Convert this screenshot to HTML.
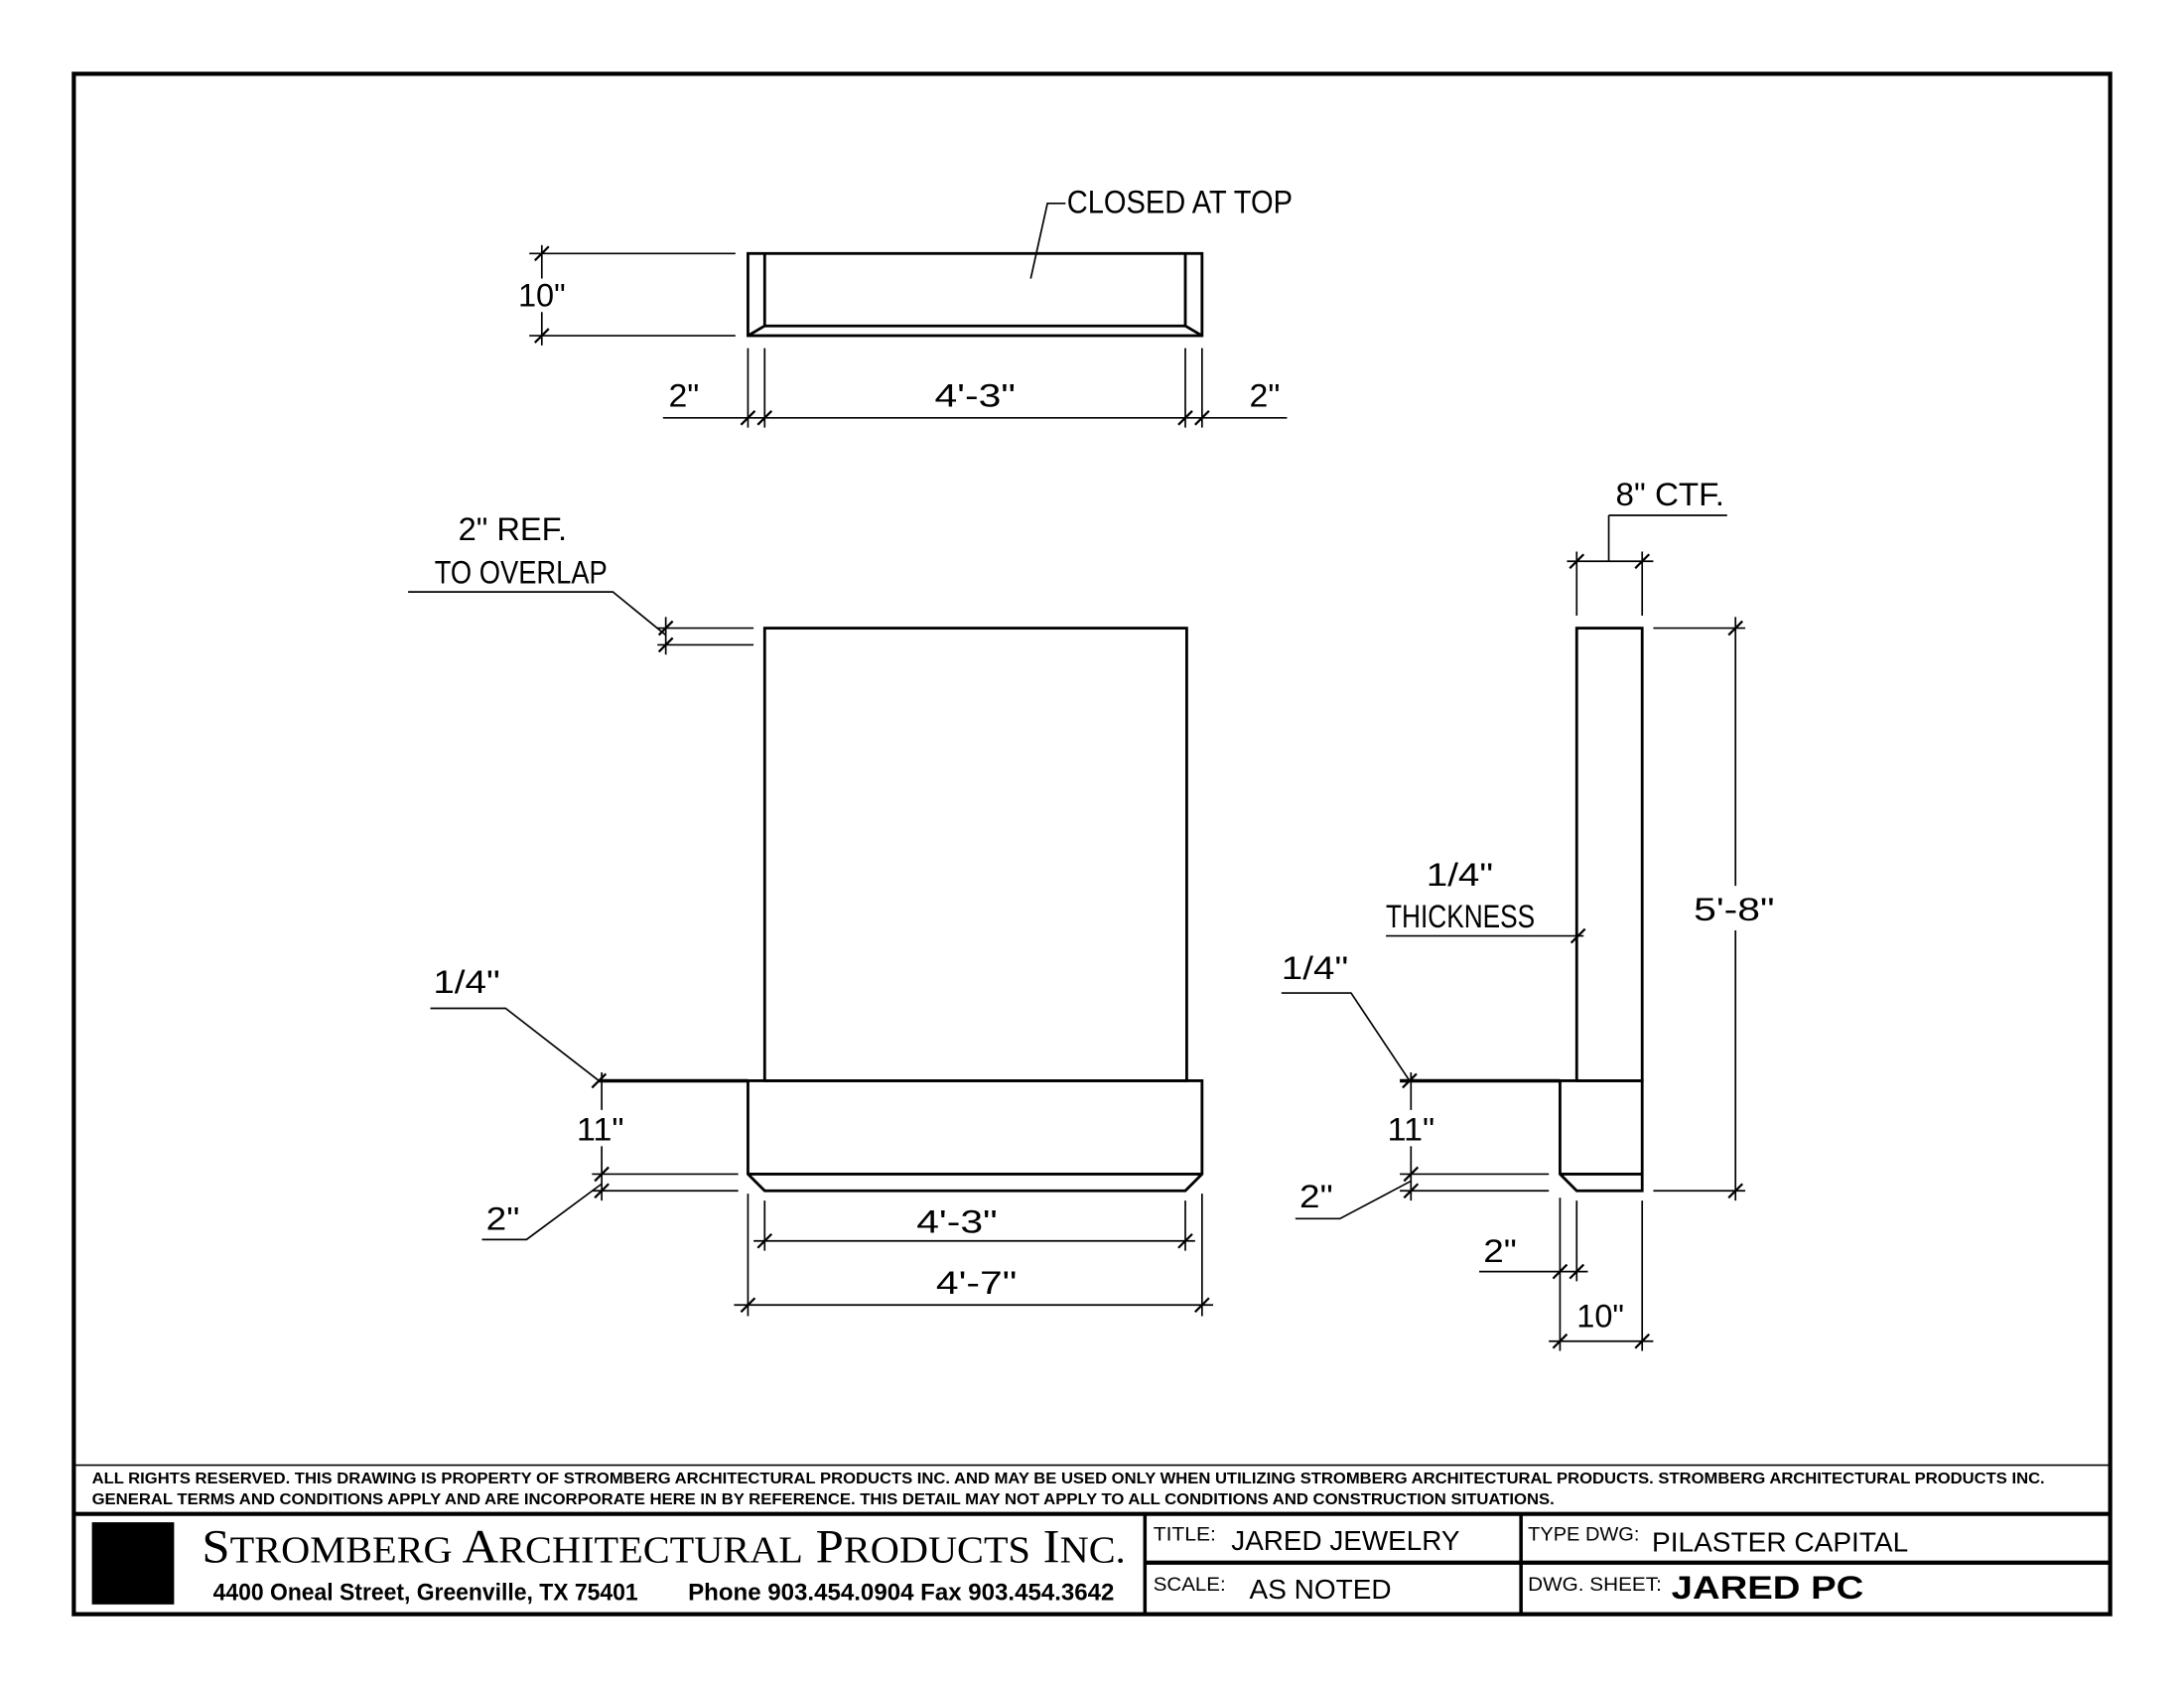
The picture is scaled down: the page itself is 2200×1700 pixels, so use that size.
<!DOCTYPE html>
<html><head><meta charset="utf-8"><style>
html,body{margin:0;padding:0;background:#fff}
svg{display:block}
.c{font-family:"Liberation Sans Narrow","Liberation Sans",sans-serif;font-size:23px;fill:#000}
.n{font-family:"Liberation Sans Narrow","Liberation Sans",sans-serif;font-weight:bold;font-size:11px}
.s{font-family:"Liberation Sans Narrow","Liberation Sans",sans-serif}
</style></head><body>
<svg width="2200" height="1700" viewBox="0 0 1568 1212" preserveAspectRatio="none" xmlns="http://www.w3.org/2000/svg">
<defs>
<path id="t" d="M-5 5 L5 -5" stroke="#000" stroke-width="1.6"/>
</defs>
<rect x="0" y="0" width="1568" height="1212" fill="#fff"/>
<g fill="none" stroke="#000">
<!-- frame -->
<rect x="53" y="53" width="1462" height="1106" stroke-width="3"/>
<line x1="53" y1="1052" x2="1515" y2="1052" stroke-width="1.2"/>
<line x1="53" y1="1087" x2="1515" y2="1087" stroke-width="3"/>
<line x1="822" y1="1087" x2="822" y2="1159" stroke-width="2.5"/>
<line x1="1092" y1="1087" x2="1092" y2="1159" stroke-width="2.5"/>
<line x1="822" y1="1122" x2="1515" y2="1122" stroke-width="3"/>

<!-- TOP VIEW -->
<g stroke-width="2">
<rect x="537" y="182" width="326" height="59"/>
<path d="M549 182 V234 H851 V182 M537 241 L549 234 M863 241 L851 234"/>
</g>
<g stroke-width="1.2">
<path d="M740 200 L752 146 H765"/>
<path d="M380 182 H528 M380 241 H528 M389 176 V200 M389 224 V248"/>
<path d="M476 300 H924 M537 250 V307 M549 250 V307 M851 250 V307 M863 250 V307"/>
</g>

<!-- FRONT ELEVATION -->
<g stroke-width="2">
<rect x="549" y="451" width="303" height="325"/>
<path d="M537 776 H863 V843 L851 855 H549 L537 843 Z M537 843 H863"/>
<line x1="430" y1="776" x2="537" y2="776" stroke-width="2.5"/>
</g>
<g stroke-width="1.2">
<path d="M293 425 H440 L478 456"/>
<path d="M472 451 H541 M472 463 H541 M478 443 V470"/>
<path d="M309 724 H363 L430 776"/>
<path d="M432 770 V797 M432 823 V862 M425 843 H530 M425 855 H530"/>
<path d="M346 890 H378 L432 850"/>
<path d="M541 891 H858 M549 862 V898 M851 862 V898"/>
<path d="M527 937 H871 M537 857 V945 M863 857 V945"/>
</g>

<!-- SIDE ELEVATION -->
<g stroke-width="2">
<rect x="1132" y="451" width="47" height="325"/>
<path d="M1120 776 H1179 V855 H1132 L1120 843 Z M1120 843 H1179"/>
<line x1="1005" y1="776" x2="1120" y2="776" stroke-width="2.5"/>
</g>
<g stroke-width="1.2">
<path d="M1155 370 H1240 M1155 370 V403 M1125 403 H1187 M1132 396 V442 M1179 396 V442"/>
<path d="M1187 451 H1253 M1187 855 H1253 M1246 443 V636 M1246 668 V862"/>
<path d="M995 672 H1137"/>
<path d="M920 713 H970 L1012 776"/>
<path d="M1013 770 V797 M1013 823 V862 M1005 843 H1112 M1005 855 H1112"/>
<path d="M930 875 H962 L1013 848"/>
<path d="M1062 913 H1140 M1120 860 V970 M1132 862 V920 M1179 862 V970 M1112 963 H1187"/>
</g>
</g>
<!-- ticks -->
<g>
<use href="#t" x="389" y="182"/><use href="#t" x="389" y="241"/>
<use href="#t" x="537" y="300"/><use href="#t" x="549" y="300"/><use href="#t" x="851" y="300"/><use href="#t" x="863" y="300"/>
<use href="#t" x="478" y="451"/><use href="#t" x="478" y="463"/>
<use href="#t" x="430" y="776"/><use href="#t" x="432" y="843"/><use href="#t" x="432" y="855"/>
<use href="#t" x="549" y="891"/><use href="#t" x="851" y="891"/>
<use href="#t" x="537" y="937"/><use href="#t" x="863" y="937"/>
<use href="#t" x="1132" y="403"/><use href="#t" x="1179" y="403"/>
<use href="#t" x="1246" y="451"/><use href="#t" x="1246" y="855"/>
<use href="#t" x="1133" y="672"/><use href="#t" x="1012" y="776"/>
<use href="#t" x="1013" y="843"/><use href="#t" x="1013" y="855"/>
<use href="#t" x="1120" y="913"/><use href="#t" x="1132" y="913"/>
<use href="#t" x="1120" y="963"/><use href="#t" x="1179" y="963"/>
</g>
<!-- CAD labels -->
<g class="c">
<text x="766" y="153" textLength="162" lengthAdjust="spacingAndGlyphs">CLOSED AT TOP</text>
<text x="372" y="220" textLength="34" lengthAdjust="spacingAndGlyphs">10"</text>
<text x="480" y="292" textLength="22" lengthAdjust="spacingAndGlyphs">2"</text>
<text x="671" y="292" textLength="58" lengthAdjust="spacingAndGlyphs">4'-3"</text>
<text x="897" y="292" textLength="22" lengthAdjust="spacingAndGlyphs">2"</text>
<text x="329" y="388" textLength="78" lengthAdjust="spacingAndGlyphs">2" REF.</text>
<text x="312" y="419" textLength="124" lengthAdjust="spacingAndGlyphs">TO OVERLAP</text>
<text x="311" y="713" textLength="48" lengthAdjust="spacingAndGlyphs">1/4"</text>
<text x="414" y="819" textLength="34" lengthAdjust="spacingAndGlyphs">11"</text>
<text x="349" y="883" textLength="24" lengthAdjust="spacingAndGlyphs">2"</text>
<text x="658" y="885" textLength="58" lengthAdjust="spacingAndGlyphs">4'-3"</text>
<text x="672" y="929" textLength="58" lengthAdjust="spacingAndGlyphs">4'-7"</text>
<text x="1160" y="363" textLength="78" lengthAdjust="spacingAndGlyphs">8" CTF.</text>
<text x="1216" y="661" textLength="58" lengthAdjust="spacingAndGlyphs">5'-8"</text>
<text x="1024" y="636" textLength="48" lengthAdjust="spacingAndGlyphs">1/4"</text>
<text x="995" y="666" textLength="107" lengthAdjust="spacingAndGlyphs">THICKNESS</text>
<text x="920" y="703" textLength="48" lengthAdjust="spacingAndGlyphs">1/4"</text>
<text x="996" y="819" textLength="34" lengthAdjust="spacingAndGlyphs">11"</text>
<text x="933" y="867" textLength="24" lengthAdjust="spacingAndGlyphs">2"</text>
<text x="1065" y="906" textLength="24" lengthAdjust="spacingAndGlyphs">2"</text>
<text x="1132" y="953" textLength="34" lengthAdjust="spacingAndGlyphs">10"</text>
</g>
<!-- notes -->
<text class="n" x="66" y="1065" textLength="1402" lengthAdjust="spacingAndGlyphs">ALL RIGHTS RESERVED. THIS DRAWING IS PROPERTY OF STROMBERG ARCHITECTURAL PRODUCTS INC. AND MAY BE USED ONLY WHEN UTILIZING STROMBERG ARCHITECTURAL PRODUCTS.  STROMBERG ARCHITECTURAL PRODUCTS INC.</text>
<text class="n" x="66" y="1080" textLength="1050" lengthAdjust="spacingAndGlyphs">GENERAL TERMS AND CONDITIONS APPLY AND ARE INCORPORATE HERE IN BY REFERENCE.  THIS DETAIL MAY NOT APPLY TO ALL CONDITIONS AND CONSTRUCTION SITUATIONS.</text>
<!-- title block -->
<rect x="66" y="1093" width="59" height="59" fill="#000"/>
<text x="145" y="1122" font-family="Liberation Serif,serif" font-size="34" textLength="663" lengthAdjust="spacingAndGlyphs">S<tspan font-size="27">TROMBERG</tspan> A<tspan font-size="27">RCHITECTURAL</tspan> P<tspan font-size="27">RODUCTS</tspan> I<tspan font-size="27">NC.</tspan></text>
<text class="s" x="153" y="1149" font-size="17" font-weight="bold" textLength="305" lengthAdjust="spacingAndGlyphs">4400 Oneal Street, Greenville, TX  75401</text>
<text class="s" x="494" y="1149" font-size="17" font-weight="bold" textLength="306" lengthAdjust="spacingAndGlyphs">Phone 903.454.0904   Fax 903.454.3642</text>
<text class="s" x="828" y="1106" font-size="14" textLength="45" lengthAdjust="spacingAndGlyphs">TITLE:</text>
<text class="s" x="884" y="1113" font-size="20" textLength="164" lengthAdjust="spacingAndGlyphs">JARED JEWELRY</text>
<text class="s" x="828" y="1142" font-size="14" textLength="52" lengthAdjust="spacingAndGlyphs">SCALE:</text>
<text class="s" x="897" y="1148" font-size="20" textLength="102" lengthAdjust="spacingAndGlyphs">AS NOTED</text>
<text class="s" x="1097" y="1106" font-size="14" textLength="80" lengthAdjust="spacingAndGlyphs">TYPE DWG:</text>
<text class="s" x="1186" y="1114" font-size="20" textLength="184" lengthAdjust="spacingAndGlyphs">PILASTER CAPITAL</text>
<text class="s" x="1097" y="1142" font-size="14" textLength="96" lengthAdjust="spacingAndGlyphs">DWG. SHEET:</text>
<text x="1200" y="1148" font-family="Liberation Sans,sans-serif" font-weight="bold" font-size="23" textLength="138" lengthAdjust="spacingAndGlyphs">JARED PC</text>
</svg>
</body></html>
